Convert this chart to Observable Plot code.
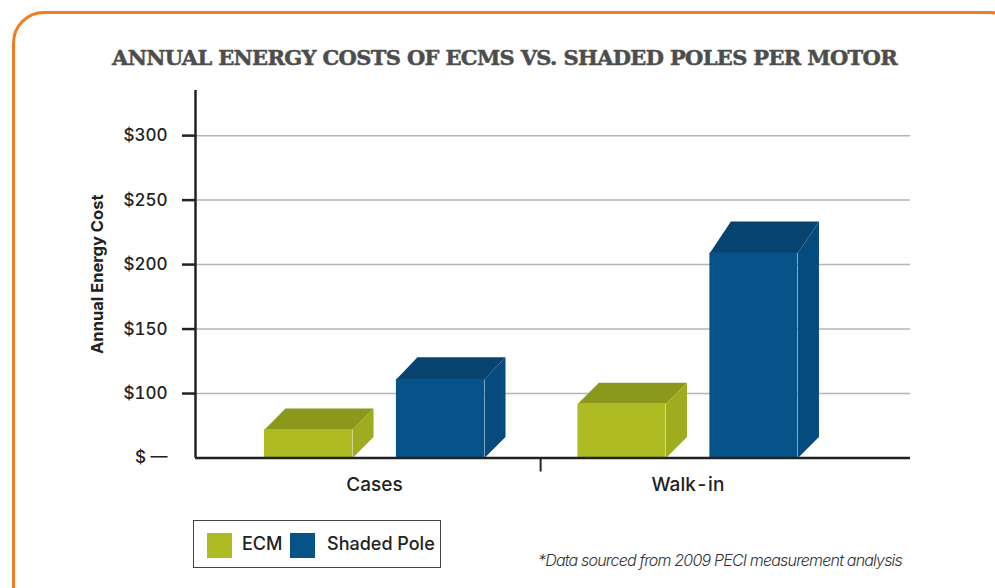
<!DOCTYPE html>
<html>
<head>
<meta charset="utf-8">
<script src="https://cdn.jsdelivr.net/npm/d3@7"></script>
<script src="https://cdn.jsdelivr.net/npm/@observablehq/plot@0.6"></script>
<style>
  html, body { margin: 0; padding: 0; background: #fff; }
  body { width: 995px; height: 588px; position: relative; overflow: hidden; font-family: Inter, "Open Sans", sans-serif; }
  #frame { position: absolute; left: 12px; top: 11px; width: 1010px; height: 620px; box-sizing: border-box;
           border: 3px solid #f47b20; border-radius: 32px; }
  #title { position: absolute; left: 112px; top: 47px; white-space: nowrap; display: inline-block;
           font-family: "DejaVu Serif", serif; font-weight: bold; font-size: 21px; line-height: 21px; color: #4d4d4d;
           -webkit-text-stroke: 0.5px #4d4d4d; }
  #chart { position: absolute; left: 0; top: 80px; }
  #legend { position: absolute; left: 193px; top: 520px; width: 248px; height: 48px; box-sizing: border-box;
            border: 1.5px solid #444; }
  .sw { position: absolute; top: 12px; width: 25px; height: 25px; }
  .lt { position: absolute; top: 0; height: 45px; line-height: 45px; font-size: 18px; font-weight: 500; color: #222; white-space: nowrap; }
  #note { position: absolute; left: 538px; top: 550px; white-space: nowrap; display: inline-block;
          font-style: italic; font-weight: 300; font-size: 16px; line-height: 20px; color: #333; }
</style>
</head>
<body>
<div id="frame"></div>
<div id="title">ANNUAL ENERGY COSTS OF ECMS VS. SHADED POLES PER MOTOR</div>
<div id="chart"></div>
<div id="legend"></div>
<div id="note">*Data sourced from 2009 PECI measurement analysis</div>
<script>
// ---- data ----
const groups = ["Cases", "Walk-in"];
const seriesNames = ["ECM", "Shaded Pole"];
const ecmCosts = [72, 92];
const shadedPoleCosts = [111, 209];
const yTickValues = [50, 100, 150, 200, 250, 300];
const yTickLabels = ["$ —", "$100", "$150", "$200", "$250", "$300"];

// ---- styles ----
const frontColors = ["#afbb22", "#065389"];
const topColors = ["#8c981c", "#06446f"];
const sideColors = ["#a0ac20", "#064b7d"];

// ---- geometry (in scale units) ----
const BASE = 50;
const Y_TOP = 335;
const xDomain = [-0.571, 1.71];
const barOffsets = [-0.351, 0.070];
const barWidth = 0.281;
const depthX = 0.067;
const depthY0 = 16.3;
const depthGrow = 0.075;
const dividerX = 0.53;

const bars = groups.flatMap((g, gi) => [
  {group: g, gi, series: 0, value: ecmCosts[gi]},
  {group: g, gi, series: 1, value: shadedPoleCosts[gi]}
]);

const faces = [];
bars.forEach((b, i) => {
  const x0 = b.gi + barOffsets[b.series];
  const x1 = x0 + barWidth;
  const dt = depthY0 + depthGrow * Math.max(0, b.value - 100);
  const top = [[x0, b.value], [x1, b.value], [x1 + depthX, b.value + dt], [x0 + depthX, b.value + dt]];
  const side = [[x1, BASE], [x1, b.value], [x1 + depthX, b.value + dt], [x1 + depthX, BASE + depthY0]];
  top.forEach(([x, y]) => faces.push({id: i + "-top", x, y, fill: topColors[b.series]}));
  side.forEach(([x, y]) => faces.push({id: i + "-side", x, y, fill: sideColors[b.series]}));
});

const plot = Plot.plot({
  width: 995,
  height: 420,
  marginTop: 10,
  marginBottom: 42.5,
  marginLeft: 195,
  marginRight: 85,
  x: {domain: xDomain, label: null},
  y: {domain: [BASE, Y_TOP], label: null},
  color: {type: "identity"},
  style: {fontFamily: "Inter, 'Open Sans', sans-serif", color: "#222", background: "transparent", overflow: "visible"},
  marks: [
    Plot.ruleY(yTickValues.slice(1), {stroke: "#b5b5b5", strokeWidth: 1.5}),
    Plot.line(faces, {x: "x", y: "y", z: "id", fill: "fill", stroke: "none", curve: "linear-closed"}),
    Plot.rect(bars, {
      x1: d => d.gi + barOffsets[d.series],
      x2: d => d.gi + barOffsets[d.series] + barWidth,
      y1: d => BASE,
      y2: "value",
      fill: d => frontColors[d.series]
    }),
    Plot.ruleY([BASE], {stroke: "#222", strokeWidth: 2.5}),
    Plot.ruleX([xDomain[0]], {y1: BASE, y2: Y_TOP, stroke: "#222", strokeWidth: 2.5}),
    Plot.axisY({ticks: yTickValues, tickFormat: d => yTickLabels[yTickValues.indexOf(d)], tickSize: 0, tickPadding: 28, fontSize: 17, fontWeight: 500, label: null}),
    Plot.axisY({ticks: yTickValues.slice(1), tickFormat: () => "", tickSize: 13, strokeWidth: 2.5, label: null}),
    Plot.axisX({ticks: [0, 1], tickFormat: d => groups[d], tickSize: 0, tickPadding: 19, fontSize: 19, fontWeight: 500, label: null}),
    Plot.axisX({ticks: [dividerX], tickFormat: () => "", tickSize: 14, strokeWidth: 2, label: null}),
    Plot.text(["Annual Energy Cost"], {text: d => d, frameAnchor: "left", textAnchor: "middle", rotate: -90, dx: -98, fontSize: 16.5, fontWeight: "bold"})
  ]
});
document.getElementById("chart").appendChild(plot);

// legend
const legend = document.getElementById("legend");
const swLeft = [13, 96];
const txLeft = [48, 133];
seriesNames.forEach((name, i) => {
  const sw = document.createElement("div");
  sw.className = "sw"; sw.style.left = swLeft[i] + "px"; sw.style.background = frontColors[i];
  legend.appendChild(sw);
  const t = document.createElement("div");
  t.className = "lt"; t.style.left = txLeft[i] + "px"; t.textContent = name;
  legend.appendChild(t);
});

function fit(el, target) {
  const w = el.getBoundingClientRect().width;
  const n = el.textContent.length;
  el.style.letterSpacing = ((target - w) / n) + "px";
}
fit(document.getElementById("title"), 785);
fit(document.getElementById("note"), 364);
</script>
</body>
</html>
